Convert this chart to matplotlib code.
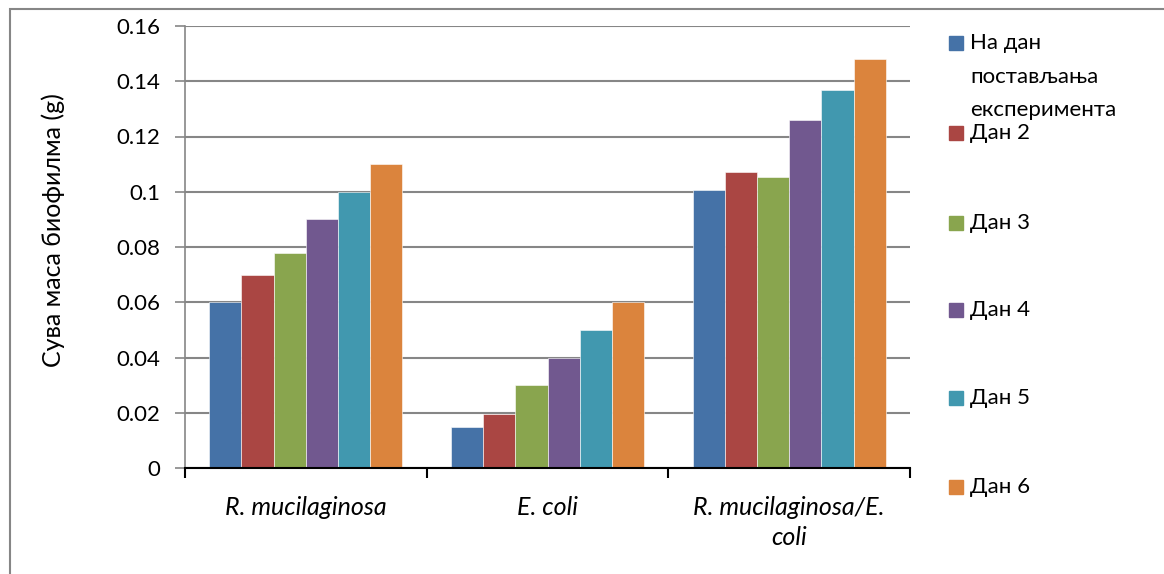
import numpy as np
import matplotlib.pyplot as plt
from matplotlib.patches import Rectangle

plt.rcParams['font.family'] = ['Lato', 'DejaVu Sans']

# Data
groups = ['R. mucilaginosa', 'E. coli', 'R. mucilaginosa/E.\ncoli']
series = ['На дан\nпостављања\nексперимента', 'Дан 2', 'Дан 3', 'Дан 4', 'Дан 5', 'Дан 6']
values = [
    [0.060, 0.015, 0.1005],
    [0.070, 0.0195, 0.107],
    [0.078, 0.030, 0.1053],
    [0.090, 0.040, 0.126],
    [0.100, 0.050, 0.137],
    [0.110, 0.060, 0.148],
]
colors = ['#4572A7', '#AA4643', '#89A54E', '#71588F', '#4198AF', '#DB843D']
yticks = [0, 0.02, 0.04, 0.06, 0.08, 0.1, 0.12, 0.14, 0.16]

W, H = 1164, 574
fig = plt.figure(figsize=(W / 100, H / 100), dpi=100)
ax = fig.add_axes([185 / W, 1 - 468 / H, (910 - 185) / W, (468 - 26) / H])

x = np.arange(len(groups))
bw = 1 / 7.5
for i, (name, vals) in enumerate(zip(series, values)):
    ax.bar(x + (i - 2.5) * bw, vals, width=bw, color=colors[i],
           edgecolor='white', linewidth=0.4, zorder=3)

ax.set_xlim(-0.5, 2.5)
ax.set_ylim(0, 0.16)
ax.set_yticks(yticks)
ax.set_yticklabels([f'{v:g}' for v in yticks], fontsize=16)
ax.yaxis.grid(True, color='#868686', linewidth=1.5, zorder=0)

ax.set_xticks(x)
ax.set_xticklabels(groups, fontsize=18, style='italic', linespacing=1.4)
ax.tick_params(axis='x', length=0, pad=20)
ax.set_xticks([-0.5, 0.5, 1.5, 2.5], minor=True)
ax.tick_params(axis='x', which='minor', length=7, width=1.5, color='black')
ax.tick_params(axis='y', length=7, width=1.2, color='#868686', pad=11)

for s in ['top', 'right']:
    ax.spines[s].set_visible(False)
ax.spines['left'].set_color('#868686')
ax.spines['left'].set_linewidth(1.2)
ax.spines['bottom'].set_color('black')
ax.spines['bottom'].set_linewidth(1.5)
ax.spines['bottom'].set_zorder(4)

ax.set_ylabel('Сува маса биофилма (g)', fontsize=18)
ax.yaxis.set_label_coords(-0.165, 0.538)

# legend
leg_y = [43, 133, 223, 310, 398, 487]
for i, (name, yy) in enumerate(zip(series, leg_y)):
    fig.patches.append(Rectangle((949 / W, 1 - (yy + 7) / H), 14 / W, 14 / H,
                                 transform=fig.transFigure, color=colors[i]))
    fig.text(970 / W, 1 - (yy - 10) / H, name, fontsize=16, va='top',
             ha='left', linespacing=1.85)

# outer chart border
fig.patches.append(Rectangle((10 / W, -0.01), 1.1, 1 - 9 / H + 0.01,
                             transform=fig.transFigure, fill=False,
                             edgecolor='#868686', linewidth=1.5))

fig.savefig('out.png', dpi=100)
